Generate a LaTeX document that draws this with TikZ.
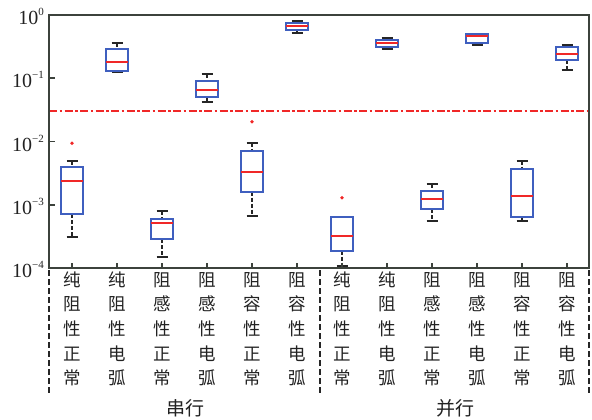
\documentclass[tikz,border=0pt]{standalone}
\usepackage{fontspec}
\setmainfont{Liberation Serif}
\newfontfamily\cjk{Noto Sans CJK SC}
\definecolor{axcol}{HTML}{3C423C}
\definecolor{boxblue}{HTML}{3F5FBF}
\definecolor{medred}{HTML}{F02828}
\definecolor{txtcol}{HTML}{222222}
\tikzset{
  axis/.style={draw=axcol,line width=1.8pt},
  whisk/.style={draw=black!85,line width=1.5pt,dash pattern=on 4pt off 2pt},
  capline/.style={draw=black!85,line width=1.7pt},
  boxs/.style={draw=boxblue,line width=1.8pt,fill=white},
  med/.style={draw=medred,line width=1.8pt},
  outl/.style={fill=medred,draw=none},
  thr/.style={draw=medred,line width=1.6pt,dash pattern=on 8pt off 2.5pt on 2.5pt off 2.5pt},
  sep/.style={draw=black!85,line width=1.6pt,dash pattern=on 6pt off 3pt},
  cat/.style={font=\cjk\fontsize{17.5}{17.5}\selectfont,text=txtcol,inner sep=0pt,text height=0.88em,text depth=0.12em},
  grp/.style={font=\cjk\fontsize{19}{19}\selectfont,text=txtcol,inner sep=0pt},
  ylab/.style={font=\fontsize{20}{20}\selectfont,text=txtcol,inner sep=0pt,anchor=base east},
}
\newcommand{\mybox}[6]{%
  \draw[whisk] (#1,#2) -- (#1,#3);
  \draw[whisk] (#1,#5) -- (#1,#6);
  \draw[capline] (#1-5.5,#2) -- (#1+5.5,#2);
  \draw[capline] (#1-5.5,#6) -- (#1+5.5,#6);
  \draw[boxs] (#1-11,#3) rectangle (#1+11,#5);
  \draw[med] (#1-11,#4) -- (#1+11,#4);
}
\newcommand{\myoutl}[2]{%
  \fill[outl] (#1,#2) circle (1.9);
}
\newcommand{\mycol}[6]{%
  \foreach \c [count=\k from 0] in {#2,#3,#4,#5,#6}
    \node[cat] (c#1-\k) at (#1,282.5+24.6*\k) {\c};
}
\newcommand{\expo}[1]{\raisebox{9pt}{\fontsize{11}{11}\selectfont #1}}
\begin{document}
\begin{tikzpicture}[x=1pt,y=-1pt]
\useasboundingbox (0,0) rectangle (592,420);
% threshold
\coordinate (thl) at (49,111);
\coordinate (thr) at (589,111);
\draw[thr] (thl) -- (thr);
% boxes
\mybox{72}{160.7}{166.7}{180.7}{214.3}{237.3}
\myoutl{72}{143.3}
\mybox{117}{43.3}{49}{62.3}{70.7}{72.3}
\mybox{162}{211}{219.3}{223.3}{239.3}{257}
\mybox{207}{74}{81}{90.3}{97}{102}
\mybox{252}{143.3}{151.3}{172.3}{191.7}{215.7}
\myoutl{252}{121.7}
\mybox{297}{20.7}{22.7}{25.7}{30}{33.3}
\mybox{342}{217.3}{217.3}{236.3}{250.7}{266}
\myoutl{342}{197.7}
\mybox{387}{37.7}{40}{43.3}{47.3}{49}
\mybox{432}{184}{190.7}{199}{209.3}{220.7}
\mybox{477}{34.3}{34.3}{35.8}{42.7}{45.3}
\mybox{522}{160.7}{169.3}{196}{217}{221}
\mybox{567}{45.3}{47.3}{53.7}{60.3}{70.3}
% axes frame
\coordinate (tl) at (49,15);
\coordinate (tr) at (589,15);
\coordinate (bl) at (49,268);
\coordinate (br) at (589,268);
\draw[axis] (tl) -- (tr) -- (br) -- (bl) -- cycle;
% y ticks
\foreach \yy in {78.25,141.5,204.75}
  \draw[axis] (49,\yy) -- (55,\yy);
% x ticks
\foreach \xx in {72,117,...,567}
  \draw[axis] (\xx,268) -- (\xx,263);
% y labels
\node[ylab] (y0) at (44,24.5) {10\expo{0}};
\node[ylab] (y1) at (44,87.75) {10\expo{−1}};
\node[ylab] (y2) at (44,151) {10\expo{−2}};
\node[ylab] (y3) at (44,214.25) {10\expo{−3}};
\node[ylab] (y4) at (44,277.5) {10\expo{−4}};
% separators
\coordinate (s1a) at (49,270);
\coordinate (s1b) at (49,394);
\coordinate (s2a) at (320,270);
\coordinate (s2b) at (320,394);
\coordinate (s3a) at (589,270);
\coordinate (s3b) at (589,394);
\draw[sep] (s1a) -- (s1b);
\draw[sep] (s2a) -- (s2b);
\draw[sep] (s3a) -- (s3b);
% category labels
\mycol{72}{纯}{阻}{性}{正}{常}
\mycol{117}{纯}{阻}{性}{电}{弧}
\mycol{162}{阻}{感}{性}{正}{常}
\mycol{207}{阻}{感}{性}{电}{弧}
\mycol{252}{阻}{容}{性}{正}{常}
\mycol{297}{阻}{容}{性}{电}{弧}
\mycol{342}{纯}{阻}{性}{正}{常}
\mycol{387}{纯}{阻}{性}{电}{弧}
\mycol{432}{阻}{感}{性}{正}{常}
\mycol{477}{阻}{感}{性}{电}{弧}
\mycol{522}{阻}{容}{性}{正}{常}
\mycol{567}{阻}{容}{性}{电}{弧}
% group labels
\node[grp] (g1) at (185,408) {串行};
\node[grp] (g2) at (455,408) {并行};
\end{tikzpicture}
\end{document}
